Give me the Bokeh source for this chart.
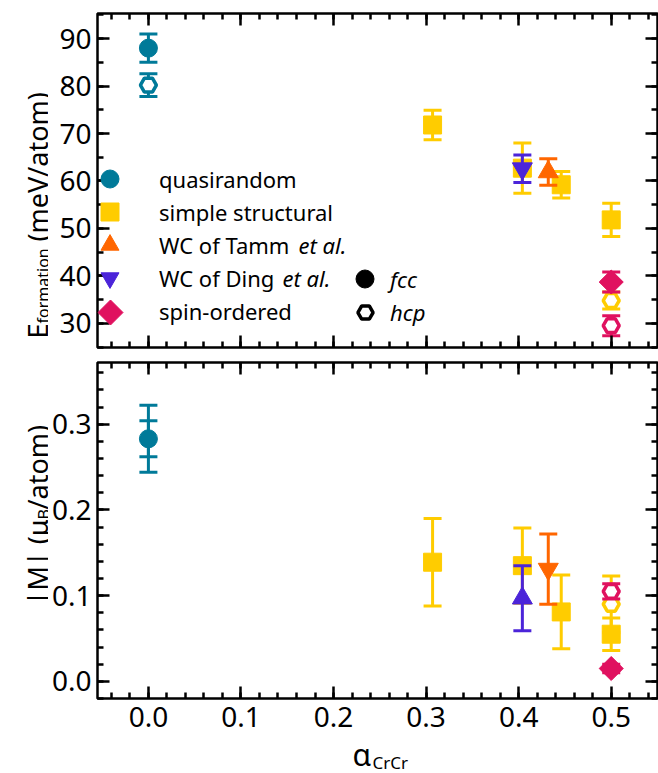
import math
from bokeh.plotting import figure
from bokeh.models import (Legend, LegendItem, Label, SingleIntervalTicker, LinearAxis,
                          PrintfTickFormatter, CustomJSTickFormatter, Range1d, PolyAnnotation)
from bokeh.layouts import column, row
from bokeh.embed import file_html
from bokeh.resources import INLINE

FONT = "Noto Sans"
NAN = float("nan")

# ---------------- data ----------------
# quasirandom
qr_x = [0.0]
qr_fcc_E, qr_fcc_Eerr = [88.0], [3.0]
qr_hcp_E, qr_hcp_Eerr = [80.2], [2.4]
qr_fcc_M, qr_fcc_Merr = [0.283], [0.039]
qr_hcp_M, qr_hcp_Merr = [0.283], [0.021]

# simple structural
ss_fcc_x = [0.307, 0.404, 0.446, 0.5]
ss_fcc_E, ss_fcc_Eerr = [71.8, 62.7, 59.2, 51.8], [3.1, 5.3, 2.8, 3.5]
ss_fcc_M, ss_fcc_Merr = [0.139, 0.135, 0.081, 0.055], [0.051, 0.044, 0.043, 0.019]
ss_hcp_x = [0.5]
ss_hcp_E, ss_hcp_Eerr = [34.8], [1.8]
ss_hcp_M, ss_hcp_Merr = [0.090], [0.033]

# WC of Tamm et al.
tamm_x = [0.432]
tamm_E, tamm_Eerr = [61.9], [2.8]
tamm_M, tamm_Merr = [0.131], [0.041]

# WC of Ding et al.
ding_x = [0.404]
ding_E, ding_Eerr = [62.6], [2.9]
ding_M, ding_Merr = [0.097], [0.038]

# spin-ordered
so_fcc_x = [0.5]
so_fcc_E, so_fcc_Eerr = [38.7], [2.1]
so_fcc_M, so_fcc_Merr = [0.015], [0.005]
so_hcp_x = [0.5]
so_hcp_E, so_hcp_Eerr = [29.5], [2.1]
so_hcp_M, so_hcp_Merr = [0.105], [0.009]

TEAL = "#007A99"
YELLOW = "#FFCC00"
ORANGE = "#FF6600"
BLUE = "#4B24D9"
PINK = "#E0115F"

LABW = 48          # width of the strip holding the rotated y labels
x_range = Range1d(-0.055, 0.55)


def errbar(p, x, y, err, color):
    lo = [a - b for a, b in zip(y, err)]
    hi = [a + b for a, b in zip(y, err)]
    p.segment(x0=x, y0=lo, x1=x, y1=hi, line_color=color, line_width=3)
    p.scatter(x=x, y=lo, marker="dash", size=18, line_color=color, line_width=3)
    p.scatter(x=x, y=hi, marker="dash", size=18, line_color=color, line_width=3)


def point(p, x, y, err, color, marker, hollow=False, size=18, angle=0.0):
    errbar(p, x, y, err, color)
    if hollow:
        return p.scatter(x=x, y=y, marker=marker, size=size, line_color=color,
                         line_width=3.5, fill_color="white")
    return p.scatter(x=x, y=y, marker=marker, size=size, line_color=color,
                     fill_color=color, line_width=1, angle=angle)


def style_axis(ax, ticker, fmt, labels):
    ax.ticker = ticker
    ax.axis_line_color = None
    ax.major_tick_in = 12
    ax.major_tick_out = 0
    ax.minor_tick_in = 6
    ax.minor_tick_out = 0
    ax.major_tick_line_width = 2.5
    ax.minor_tick_line_width = 2.5
    ax.major_tick_line_color = "black"
    ax.minor_tick_line_color = "black"
    if labels:
        ax.formatter = fmt
        ax.major_label_text_font = FONT
        ax.major_label_text_font_size = "28px"
        ax.major_label_text_color = "black"
    else:
        ax.formatter = CustomJSTickFormatter(code="return ''")
        ax.major_label_standoff = 0


def make_fig(height, yr, border_top, border_bottom, yticker, yfmt, xlabels):
    p = figure(width=658 - LABW, height=height, x_range=x_range, y_range=yr,
               output_backend="svg", toolbar_location=None, title=None,
               min_border_left=97 - LABW, min_border_right=1,
               min_border_top=border_top, min_border_bottom=border_bottom)
    p.grid.grid_line_color = None
    p.outline_line_color = "black"
    p.outline_line_width = 2.5
    p.outline_line_alpha = 1.0
    xt = SingleIntervalTicker(interval=0.1, num_minor_ticks=5)
    style_axis(p.xaxis[0], xt, PrintfTickFormatter(format="%.1f"), xlabels)
    p.xaxis[0].major_label_standoff = 8 if xlabels else 0
    style_axis(p.yaxis[0], yticker, yfmt, True)
    p.yaxis[0].major_label_standoff = 6
    top = LinearAxis()
    style_axis(top, SingleIntervalTicker(interval=0.1, num_minor_ticks=5), None, False)
    p.add_layout(top, "above")
    right = LinearAxis()
    style_axis(right, yticker, None, False)
    p.add_layout(right, "right")
    return p


def text_strip(w, h):
    s = figure(width=w, height=h, x_range=Range1d(0, w), y_range=Range1d(0, h),
               output_backend="svg", toolbar_location=None, title=None,
               x_axis_location=None, y_axis_location=None,
               min_border=0, min_border_left=0, min_border_right=0,
               min_border_top=0, min_border_bottom=0)
    s.outline_line_color = None
    s.grid.visible = False
    return s


def put(s, x, y, txt, size, angle=0.0):
    # x, y in canvas pixels of the strip (origin top-left)
    s.add_layout(Label(x=x, y=y, x_units="canvas", y_units="canvas", text=txt,
                       angle=angle, text_font=FONT, text_font_size=size,
                       text_color="black", text_baseline="alphabetic",
                       text_align="left"))


def legend(items, loc, standoff=27, style="normal", box=45, spacing=21):
    return Legend(items=items, location=loc, glyph_width=box, glyph_height=box,
                  spacing=spacing, label_standoff=standoff, label_text_font=FONT,
                  label_text_font_size="22px", label_text_font_style=style,
                  label_text_color="black", padding=0, margin=0,
                  border_line_color=None, background_fill_alpha=0)


# ---------------- top panel ----------------
TOP_H = 355
pt = make_fig(TOP_H, Range1d(24.9, 95.3), 13, 8,
              SingleIntervalTicker(interval=10, num_minor_ticks=2),
              PrintfTickFormatter(format="%d"), False)

r_qr = point(pt, qr_x, qr_fcc_E, qr_fcc_Eerr, TEAL, "circle")
point(pt, qr_x, qr_hcp_E, qr_hcp_Eerr, TEAL, "hex", hollow=True, size=16)
r_ss = point(pt, ss_fcc_x, ss_fcc_E, ss_fcc_Eerr, YELLOW, "square", size=18)
r_ding = point(pt, ding_x, ding_E, ding_Eerr, BLUE, "inverted_triangle", size=20)
r_tamm = point(pt, tamm_x, tamm_E, tamm_Eerr, ORANGE, "triangle", size=20)
point(pt, ss_hcp_x, ss_hcp_E, ss_hcp_Eerr, YELLOW, "hex", hollow=True, size=16)
point(pt, so_hcp_x, so_hcp_E, so_hcp_Eerr, PINK, "hex", hollow=True, size=16)
point(pt, so_fcc_x, so_fcc_E, so_fcc_Eerr, PINK, "square", size=17, angle=math.pi / 4)

# legend-only renderers (NaN data: never drawn inside the plot)
r_fcc = pt.scatter(x=[NAN], y=[NAN], marker="circle", size=18,
                   fill_color="black", line_color="black")
r_hcp = pt.scatter(x=[NAN], y=[NAN], marker="hex", size=16, fill_color="white",
                   line_color="black", line_width=3.5)
r_so_key = pt.scatter(x=[NAN], y=[NAN], marker="square", size=18,
                      fill_alpha=0, line_alpha=0)

# two interleaved legends give a 33 px row pitch with full-size swatches
pt.add_layout(legend([
    LegendItem(label="quasirandom", renderers=[r_qr]),
    LegendItem(label="WC of Tamm", renderers=[r_tamm]),
    LegendItem(label="spin-ordered", renderers=[r_so_key]),
], (-10, 14)))
pt.add_layout(legend([
    LegendItem(label="simple structural", renderers=[r_ss]),
    LegendItem(label="WC of Ding", renderers=[r_ding]),
], (-10, 47)))
pt.add_layout(legend([LegendItem(label="fcc", renderers=[r_fcc])], (245, 46),
                     standoff=3, style="italic", box=45))
pt.add_layout(legend([LegendItem(label="hcp", renderers=[r_hcp])], (249, 16),
                     standoff=6, style="italic", box=38))

# rotated-square (diamond) key swatch for "spin-ordered"
cx, cy, hd = 110 - LABW, 312, 12.5
pt.add_layout(PolyAnnotation(xs=[cx, cx + hd, cx, cx - hd], ys=[cy - hd, cy, cy + hd, cy],
                             xs_units="canvas", ys_units="canvas",
                             fill_color=PINK, fill_alpha=1, line_color=PINK,
                             line_alpha=1, line_width=1))

for txt, xx, yy in [("et al.", 298 - LABW, 244), ("et al.", 282 - LABW, 277)]:
    pt.add_layout(Label(x=xx, y=yy, x_units="canvas", y_units="canvas", text=txt,
                        text_font=FONT, text_font_size="22px", text_font_style="italic",
                        text_color="black", text_baseline="middle", text_align="left"))

# rotated y label of the top panel: E_formation (meV/atom)
lt = text_strip(LABW, TOP_H)
put(lt, 37, 338, "E", "27px", math.pi / 2)
put(lt, 42, 323, "formation", "16px", math.pi / 2)
put(lt, 37, 241, "(meV/atom)", "27px", math.pi / 2)

# ---------------- bottom panel ----------------
BOT_H = 385
pb = make_fig(BOT_H, Range1d(-0.02, 0.372), 7, 42,
              SingleIntervalTicker(interval=0.1, num_minor_ticks=5),
              PrintfTickFormatter(format="%.1f"), True)

errbar(pb, qr_x, qr_hcp_M, qr_hcp_Merr, TEAL)
point(pb, qr_x, qr_fcc_M, qr_fcc_Merr, TEAL, "circle")
point(pb, ss_fcc_x, ss_fcc_M, ss_fcc_Merr, YELLOW, "square", size=18)
point(pb, ding_x, ding_M, ding_Merr, BLUE, "triangle", size=20)
point(pb, tamm_x, tamm_M, tamm_Merr, ORANGE, "inverted_triangle", size=20)
point(pb, ss_hcp_x, ss_hcp_M, ss_hcp_Merr, YELLOW, "hex", hollow=True, size=16)
point(pb, so_hcp_x, so_hcp_M, so_hcp_Merr, PINK, "hex", hollow=True, size=16)
point(pb, so_fcc_x, so_fcc_M, so_fcc_Merr, PINK, "square", size=17, angle=math.pi / 4)

lb = text_strip(LABW, BOT_H)
put(lb, 37, 250, "|M| (μ", "27px", math.pi / 2)
put(lb, 43, 164, "B", "16px", math.pi / 2)
put(lb, 37, 154, "/atom)", "27px", math.pi / 2)

# x label strip: α_CrCr
XL_H = 773 - TOP_H - BOT_H
xl = text_strip(658, XL_H)
put(xl, 352, 14, "α", "30px")
put(xl, 372, 22, "CrCr", "17px")

layout = column(row(lt, pt, spacing=0), row(lb, pb, spacing=0), xl, spacing=0)
open("out.html", "w").write(file_html(layout, INLINE))
